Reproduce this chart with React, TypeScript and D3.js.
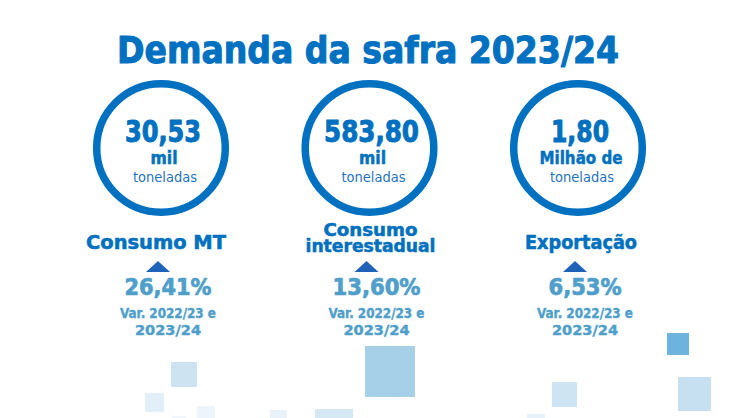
import React from 'react';
import * as d3 from 'd3';

// ---------- data ----------
const title = 'Demanda da safra 2023/24';
const categories = ['Consumo MT', 'Consumo interestadual', 'Exportação'];
const labelLines = [['Consumo MT'], ['Consumo', 'interestadual'], ['Exportação']];
const values = ['30,53', '583,80', '1,80'];
const units = ['mil', 'mil', 'Milhão de'];
const unitSub = ['toneladas', 'toneladas', 'toneladas'];
const variations = ['26,41%', '13,60%', '6,53%'];
const varLabel = ['Var. 2022/23 e', '2023/24'];

// ---------- layout / style ----------
const W = 755;
const H = 418;
const BLUE = '#0070C0';
const LIGHT = '#4F9FCA';
const FONT = '"DejaVu Sans Condensed", "DejaVu Sans", Verdana, sans-serif';

const valueW = [76, 95, 58];
const unitW = [27, 27, 83];
const subW = 64;
const labelW = [[140], [94, 130], [112]];
const labelDx = [-5, 1, 3];
const pctW = [87, 88, 73];
const varW = [96, 66];

// decorative background squares
const decor = [
  { x: 171, y: 362, w: 26, h: 25, c: '#CDE3F2' },
  { x: 145, y: 393, w: 19, h: 19, c: '#E3EFF8' },
  { x: 197, y: 406, w: 18, h: 14, c: '#EEF5FA' },
  { x: 172, y: 416, w: 14, h: 4, c: '#F0F6FB' },
  { x: 365, y: 346, w: 50, h: 51, c: '#A6D0E8' },
  { x: 315, y: 409, w: 38, h: 11, c: '#D6E8F4' },
  { x: 270, y: 410, w: 17, h: 10, c: '#E9F2F9' },
  { x: 667, y: 333, w: 22, h: 22, c: '#6CB3DD' },
  { x: 552, y: 382, w: 25, h: 25, c: '#CFE4F3' },
  { x: 678, y: 377, w: 33, h: 34, c: '#C6E0F1' },
  { x: 527, y: 414, w: 18, h: 6, c: '#E6F1F9' },
];

export default function App() {
  const x = d3.scalePoint<string>().domain(categories).range([161, 578]);
  const cy = 148;
  const r = 64.3;
  const tri = d3.line()([[-12, 0], [12, 0], [0, -11]]) + 'Z';
  const heavy = (c: string, w = 0.6) => ({ fill: c, stroke: c, strokeWidth: w, strokeLinejoin: 'round' as const });

  return (
    <svg
      width={W}
      height={H}
      viewBox={`0 0 ${W} ${H}`}
      style={{ position: 'absolute', left: 0, top: 0, background: '#fff' }}
      fontFamily={FONT}
    >
      <rect x={0} y={0} width={W} height={H} fill="#fff" />
      {decor.map((d, i) => (
        <rect key={i} x={d.x} y={d.y} width={d.w} height={d.h} fill={d.c} />
      ))}
      <text
        x={368}
        y={63}
        textAnchor="middle"
        fontSize={38}
        fontWeight="bold"
        {...heavy(BLUE, 1)}
        textLength={502}
        lengthAdjust="spacingAndGlyphs"
      >
        {title}
      </text>
      {categories.map((c, i) => {
        const cx = x(c)!;
        const lines = labelLines[i];
        const labelBase = lines.length === 1 ? [249] : [236, 252];
        const labelFs = lines.length === 1 ? 19 : 18;
        return (
          <g key={c}>
            <circle cx={cx} cy={cy} r={r} fill="none" stroke={BLUE} strokeWidth={7.5} />
            <text x={cx + 2} y={142} textAnchor="middle" fontSize={30} fontWeight="bold" {...heavy(BLUE, 0.9)}
              textLength={valueW[i]} lengthAdjust="spacingAndGlyphs">{values[i]}</text>
            <text x={cx + 3} y={164} textAnchor="middle" fontSize={18.5} fontWeight="bold" {...heavy(BLUE, 0.5)}
              textLength={unitW[i]} lengthAdjust="spacingAndGlyphs">{units[i]}</text>
            <text x={cx + 4} y={182} textAnchor="middle" fontSize={14} fill="#1F73C2"
              textLength={subW} lengthAdjust="spacingAndGlyphs">{unitSub[i]}</text>
            {lines.map((l, j) => (
              <text key={j} x={cx + labelDx[i]} y={labelBase[j]} textAnchor="middle" fontSize={labelFs}
                fontWeight="bold" {...heavy(BLUE, 0.5)} textLength={labelW[i][j]} lengthAdjust="spacingAndGlyphs">{l}</text>
            ))}
            <path d={tri} transform={`translate(${cx - 3},272)`} fill="#1F63B8" />
            <text x={cx + 7} y={295} textAnchor="middle" fontSize={23} fontWeight="bold" {...heavy(LIGHT, 0.7)}
              textLength={pctW[i]} lengthAdjust="spacingAndGlyphs">{variations[i]}</text>
            {varLabel.map((v, j) => (
              <text key={j} x={cx + 7} y={318 + j * 17} textAnchor="middle" fontSize={14.5} fontWeight="bold"
                {...heavy(LIGHT, 0.4)} textLength={varW[j]} lengthAdjust="spacingAndGlyphs">{v}</text>
            ))}
          </g>
        );
      })}
    </svg>
  );
}
